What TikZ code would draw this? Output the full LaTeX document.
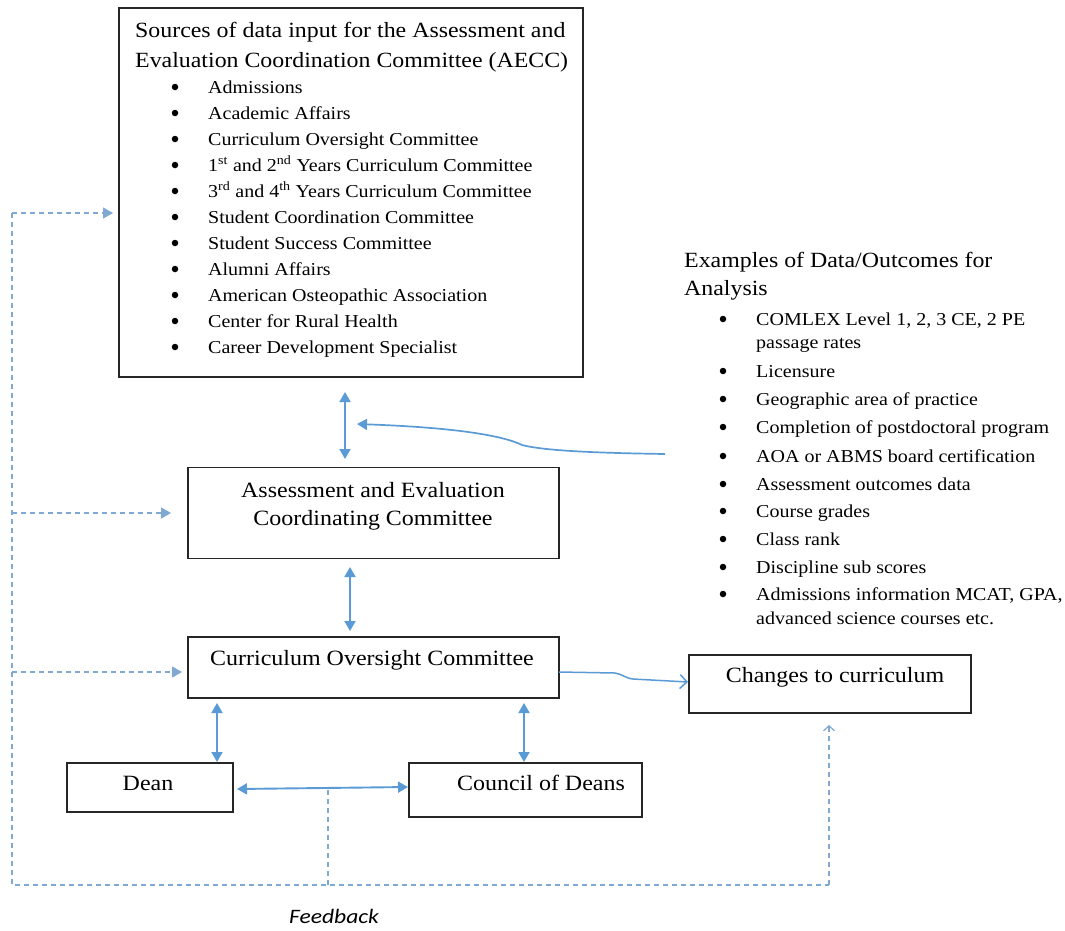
\documentclass[tikz,border=0pt]{standalone}
\usepackage{fontspec}
\setmainfont[FakeStretch=1.1]{Liberation Serif}
\newfontfamily\fbfont[FakeStretch=1.15]{Carlito}
\usetikzlibrary{arrows.meta}
\definecolor{flow}{HTML}{5B9BD5}
\definecolor{fbline}{HTML}{7FA9D2}
\definecolor{edge}{HTML}{262626}

\begin{document}
\begin{tikzpicture}[x=1pt,y=-1pt,
  box/.style={draw=edge, line width=1.4pt, inner sep=0pt},
  ttl/.style={font=\fontsize{21.7}{26}\selectfont, inner sep=0pt, anchor=base west},
  lbl/.style={font=\fontsize{21.8}{25}\selectfont, inner sep=0pt, anchor=base},
  itm/.style={font=\fontsize{18.2}{21}\selectfont, inner sep=0pt, anchor=base west},
  dot/.style={circle, fill=black, minimum size=6.5pt, inner sep=0pt},
  link/.style={draw=flow, line width=1.9pt, {Triangle[width=11pt,length=10pt]}-{Triangle[width=11pt,length=10pt]}},
  feed/.style={draw=flow, line width=1.7pt, -{Triangle[width=11pt,length=10pt]}},
  fb/.style={draw=fbline, line width=1.2pt, dash pattern=on 5pt off 4pt},
  fbhead/.style={-{Triangle[width=11pt,length=10pt]}}
]
\useasboundingbox[fill=white] (0,0) rectangle (1065,930);

% ---- boxes ----
\node[box, minimum width=464pt, minimum height=369pt] (src) at (351,192.5) {};
\node[box, minimum width=371pt, minimum height=91pt] (aecc) at (373.5,513) {};
\node[box, minimum width=371pt, minimum height=61pt] (coc) at (373.5,667.5) {};
\node[box, minimum width=166pt, minimum height=49pt] (dean) at (150,787.5) {};
\node[box, minimum width=233pt, minimum height=54pt] (cod) at (525.5,790) {};
\node[box, minimum width=282pt, minimum height=58pt] (chg) at (830,684) {};

% ---- sources of data input ----
\node[ttl] (srct1) at (135,37) {Sources of data input for the Assessment and};
\node[ttl] (srct2) at (135,67) {Evaluation Coordination Committee (AECC)};
\foreach \t [count=\i] in {
  {Admissions},
  {Academic Affairs},
  {Curriculum Oversight Committee},
  {1\textsuperscript{st} and 2\textsuperscript{nd} Years Curriculum Committee},
  {3\textsuperscript{rd} and 4\textsuperscript{th} Years Curriculum Committee},
  {Student Coordination Committee},
  {Student Success Committee},
  {Alumni Affairs},
  {American Osteopathic Association},
  {Center for Rural Health},
  {Career Development Specialist}} {
  \node[dot] (sb\i) at (175,{87+26*(\i-1)}) {};
  \node[itm] (si\i) at (208,{93+26*(\i-1)}) {\t};
}

% ---- examples of data / outcomes ----
\node[ttl] (ext1) at (684,267) {Examples of Data/Outcomes for};
\node[ttl] (ext2) at (684,295) {Analysis};
\foreach \t/\y [count=\i] in {
  {COMLEX Level 1, 2, 3 CE, 2 PE}/325,
  {Licensure}/377,
  {Geographic area of practice}/405,
  {Completion of postdoctoral program}/433,
  {AOA or ABMS board certification}/462,
  {Assessment outcomes data}/490,
  {Course grades}/517,
  {Class rank}/545,
  {Discipline sub scores}/573,
  {Admissions information MCAT, GPA,}/600} {
  \node[dot] (eb\i) at (723,{\y-6}) {};
  \node[itm] (ei\i) at (756,\y) {\t};
}
\node[itm] (ei1b) at (756,348) {passage rates};
\node[itm] (ei10b) at (756,624) {advanced science courses etc.};

% ---- box labels ----
\node[lbl] (aecct1) at (373,497) {Assessment and Evaluation};
\node[lbl] (aecct2) at (373,525) {Coordinating Committee};
\node[lbl] (coct) at (372,665) {Curriculum Oversight Committee};
\node[lbl] (deant) at (148,790) {Dean};
\node[lbl] (codt) at (541,790) {Council of Deans};
\node[lbl] (chgt) at (835,682) {Changes to curriculum};

% ---- solid connectors ----
\coordinate (srcA) at (345,392);
\coordinate (aeccA) at (345,459);
\draw[link] (srcA) -- (aeccA);
\coordinate (aeccB) at (350,567);
\coordinate (cocB) at (350,631);
\draw[link] (aeccB) -- (cocB);
\coordinate (cocD) at (217,703);
\coordinate (deanD) at (217,762);
\draw[link] (cocD) -- (deanD);
\coordinate (cocC) at (524,703);
\coordinate (codC) at (524,762);
\draw[link] (cocC) -- (codC);
\coordinate (deanR) at (237,789);
\coordinate (codL) at (408,787);
\draw[link] (deanR) -- (codL);

% data outcomes feed into the input arrow
\coordinate (exin) at (665,454);
\coordinate (intip) at (357,424);
\draw[feed] (exin) .. controls (600,453) and (545,451) .. (522,445)
  .. controls (508,438) and (470,428) .. (intip);

% curriculum oversight to changes
\coordinate (cocR) at (559,672);
\coordinate (chgL) at (688,682);
\draw[draw=flow, line width=1.5pt, -{Straight Barb[length=7pt,width=14pt,line width=1.5pt]}]
  (cocR) -- (615,673) .. controls (622,674) and (625,678) .. (633,679) -- (chgL);

% ---- feedback loop ----
\coordinate (fbL) at (12,885);
\coordinate (fbM) at (328,885);
\coordinate (fbR) at (829,885);
\coordinate (fbTop) at (12,213);
\coordinate (fbJoin) at (328,790);
\coordinate (chgB) at (829,725);
\draw[fb] (fbTop) -- (fbL) -- (fbR);
\draw[fb, -{Straight Barb[length=5pt,width=11pt,line width=1.2pt]}] (fbR) -- (chgB);
\draw[fb] (fbJoin) -- (fbM);
\draw[fb, fbhead] (fbTop) -- (113,213);
\draw[fb, fbhead] (12,513) -- (171,513);
\draw[fb, fbhead] (12,672) -- (182,672);

\node[font=\fbfont\itshape\fontsize{20.5}{24}\selectfont, anchor=base, inner sep=0pt] (fbt) at (334,923) {Feedback};
\end{tikzpicture}
\end{document}
